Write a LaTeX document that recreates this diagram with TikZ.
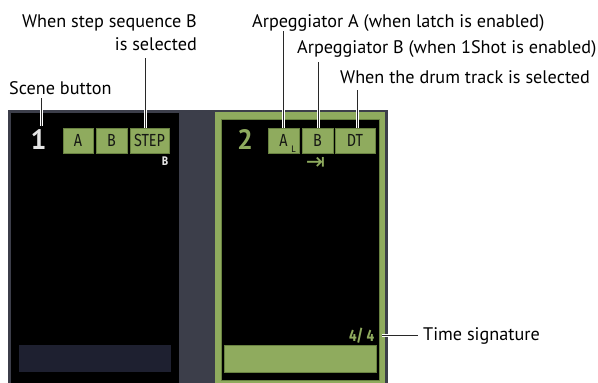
\documentclass[tikz,border=0pt]{standalone}
\usepackage{fontspec}
\setmainfont{PT Sans}
\newfontfamily\condfont{Fira Sans}
\newfontfamily\symfont{DejaVu Sans}
\definecolor{panelgray}{RGB}{60,62,74}
\definecolor{lgreen}{RGB}{143,171,94}
\definecolor{dgreen}{RGB}{105,130,65}
\definecolor{navybar}{RGB}{30,32,48}
\definecolor{leadcol}{RGB}{40,40,40}
\definecolor{numwhite}{RGB}{228,228,228}
\definecolor{boxtext}{RGB}{22,24,20}
\newcommand\condtxt[1]{\scalebox{0.82}[1]{#1}}
\begin{document}
\begin{tikzpicture}[x=1pt,y=-1pt,
  lbl/.style={inner sep=0pt, font=\fontsize{18.2}{19}\selectfont, text=black},
  tagbox/.style={draw=dgreen, fill=lgreen, line width=0.8pt, minimum height=25pt, inner sep=0pt,
    font=\condfont\fontsize{17.5}{17.5}\selectfont, text=boxtext},
  lead/.style={draw=leadcol, line width=1pt, preaction={draw=white, line width=3pt}},
  scenenum/.style={inner sep=0pt, font=\bfseries\fontsize{28}{28}\selectfont}]
\useasboundingbox (0,0) rectangle (598,383);
% panels
\fill[panelgray] (8,110) rectangle (388,383);
\fill[black] (11,113) rectangle (179,383);
\fill[lgreen] (215,112) rectangle (385,383);
\filldraw[fill=black, draw=dgreen, line width=0.8pt] (221,119) rectangle (379,380);
% bottom bars
\fill[navybar] (19,345) rectangle (171,372);
\filldraw[fill=lgreen, draw=dgreen, line width=0.8pt] (224,345) rectangle (376,372);
% scene numbers
\node[scenenum, text=numwhite] (n1) at (38.5,140) {1};
\node[scenenum, text=lgreen] (n2) at (245,140) {2};
% left boxes
\node[tagbox, minimum width=30pt] (aleft) at (78,140.5) {\condtxt{A}};
\node[tagbox, minimum width=31pt] (bleft) at (111.5,140.5) {\condtxt{B}};
\node[tagbox, minimum width=39pt] (stepbox) at (149.5,140.5) {\condtxt{STEP}};
\node[inner sep=0pt, text=numwhite, font=\condfont\bfseries\fontsize{12.5}{12.5}\selectfont] (stepB) at (165,161) {\condtxt{B}};
% right boxes
\node[tagbox, minimum width=31pt] (aright) at (283.5,140.5) {\condtxt{A}};
\node[inner sep=0pt, text=boxtext, font=\condfont\fontsize{9.5}{9.5}\selectfont] (latchL) at (293.5,149) {L};
\node[tagbox, minimum width=31pt] (bright) at (317.5,140.5) {\condtxt{B}};
\node[tagbox, minimum width=40pt] (dtbox) at (355,140.5) {\condtxt{DT}};
\node[inner sep=0pt, text=lgreen, font=\symfont\fontsize{23}{23}\selectfont] (oneshot) at (315.5,163) {⇥};
\node[inner sep=0pt, text=lgreen, anchor=east, font=\condfont\bfseries\fontsize{16.5}{16.5}\selectfont] (tsval) at (374.5,336) {\condtxt{4/ 4}};
% labels
\node[lbl, anchor=base east] (stepl1) at (197,27) {When step sequence B};
\node[lbl, anchor=base east] (stepl2) at (197,50) {is selected};
\node[lbl, anchor=base west] (scenel) at (9,94) {Scene button};
\node[lbl, anchor=base west] (arpa) at (252,27) {Arpeggiator A (when latch is enabled)};
\node[lbl, anchor=base west] (arpb) at (297,53) {Arpeggiator B (when 1Shot is enabled)};
\node[lbl, anchor=base west] (drum) at (340,83) {When the drum track is selected};
\node[lbl, anchor=base west] (tsig) at (423,340) {Time signature};
% leader ends
\coordinate (sceneTop) at (41,98);
\coordinate (sceneBot) at (41,126);
\coordinate (stepTop) at (145,58);
\coordinate (arpaTop) at (283,31);
\coordinate (arpbTop) at (318,62);
\coordinate (drumTop) at (357,90);
\coordinate (tsL) at (382,335);
\coordinate (tsR) at (418,335);
% leaders
\draw[lead] (sceneTop) -- (sceneBot);
\draw[lead] (stepTop) -- (stepTop |- stepbox.north);
\draw[lead] (arpaTop) -- (arpaTop |- aright.north);
\draw[lead] (arpbTop) -- (arpbTop |- bright.north);
\draw[lead] (drumTop) -- (drumTop |- dtbox.north);
\draw[lead] (tsL) -- (tsR);
\end{tikzpicture}
\end{document}
